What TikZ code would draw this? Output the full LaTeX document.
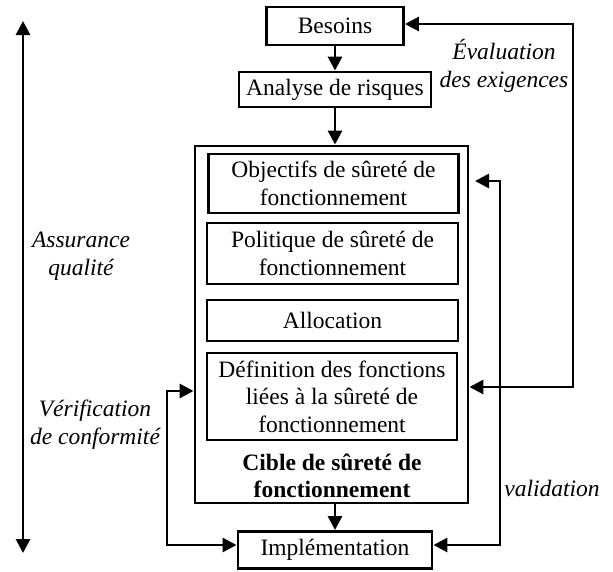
\documentclass[tikz,border=0pt]{standalone}
\usepackage{fontspec}
\setmainfont{Liberation Serif}
\usetikzlibrary{arrows.meta}
\begin{document}
\begin{tikzpicture}[x=1pt,y=-1pt,
  every node/.style={font=\fontsize{23.5}{27.5}\selectfont, inner sep=0pt},
  box/.style={draw, line width=2.9pt, align=center},
  arr/.style={line width=2.9pt, -{Triangle[length=14pt,width=14pt]}},
  darr/.style={line width=2.9pt, {Triangle[length=14pt,width=14pt]}-{Triangle[length=14pt,width=14pt]}},
  lab/.style={font=\fontsize{23.5}{28}\selectfont\itshape, align=center}]
\useasboundingbox (0,0) rectangle (613,571);
% boxes
\node[box, minimum width=137pt, minimum height=38pt] (besoins) at (335,26) {Besoins};
\node[box, minimum width=192pt, minimum height=35pt] (analyse) at (335,89.5) {Analyse de risques};
\node[box, minimum width=273pt, minimum height=357pt] (cible) at (331.5,324.5) {};
\node[box, minimum width=250pt, minimum height=59pt] (obj) at (333.5,183.5) {Objectifs de sûreté de\\fonctionnement};
\node[box, minimum width=251pt, minimum height=61pt] (pol) at (332.5,253.5) {Politique de sûreté de\\fonctionnement};
\node[box, minimum width=251pt, minimum height=41pt] (alloc) at (332.5,320.5) {Allocation};
\node[box, minimum width=250pt, minimum height=87pt] (def) at (332,396.5) {Définition des fonctions\\liées à la sûreté de\\fonctionnement};
\node[align=center, font=\fontsize{23.5}{27.5}\selectfont\bfseries] (ciblelab) at (332,476) {Cible de sûreté de\\fonctionnement};
\node[box, minimum width=194pt, minimum height=37pt] (impl) at (335,550) {Implémentation};
% labels
\node[lab] (evlab) at (504,66) {Évaluation\\des exigences};
\node[lab] (aqlab) at (81,256) {Assurance\\qualité};
\node[lab] (verlab) at (95,424.5) {Vérification\\de conformité};
\node[lab] (vallab) at (552,488) {validation};
% coordinates
\coordinate (evR) at (573,24);
\coordinate (evD) at (573,387);
\coordinate (valT) at (475,181);
\coordinate (valC) at (500,181);
\coordinate (valB) at (500,545);
\coordinate (verT) at (167,391);
\coordinate (verB) at (167,545);
\coordinate (aqT) at (23,21);
\coordinate (aqB) at (23,553);
% connectors
\draw[arr] (besoins.south) -- (analyse.north);
\draw[arr] (analyse.south) -- (analyse.south |- cible.north);
\draw[arr] (impl.north |- cible.south) -- (impl.north);
\draw[darr] (besoins.east |- evR) -- (evR) -- (evD) -- (cible.east |- evD);
\draw[darr] (valT) -- (valC) -- (valB) -- (impl.east |- valB);
\draw[darr] (cible.west |- verT) -- (verT) -- (verB) -- (impl.west |- verB);
\draw[darr] (aqT) -- (aqB);
\end{tikzpicture}
\end{document}
